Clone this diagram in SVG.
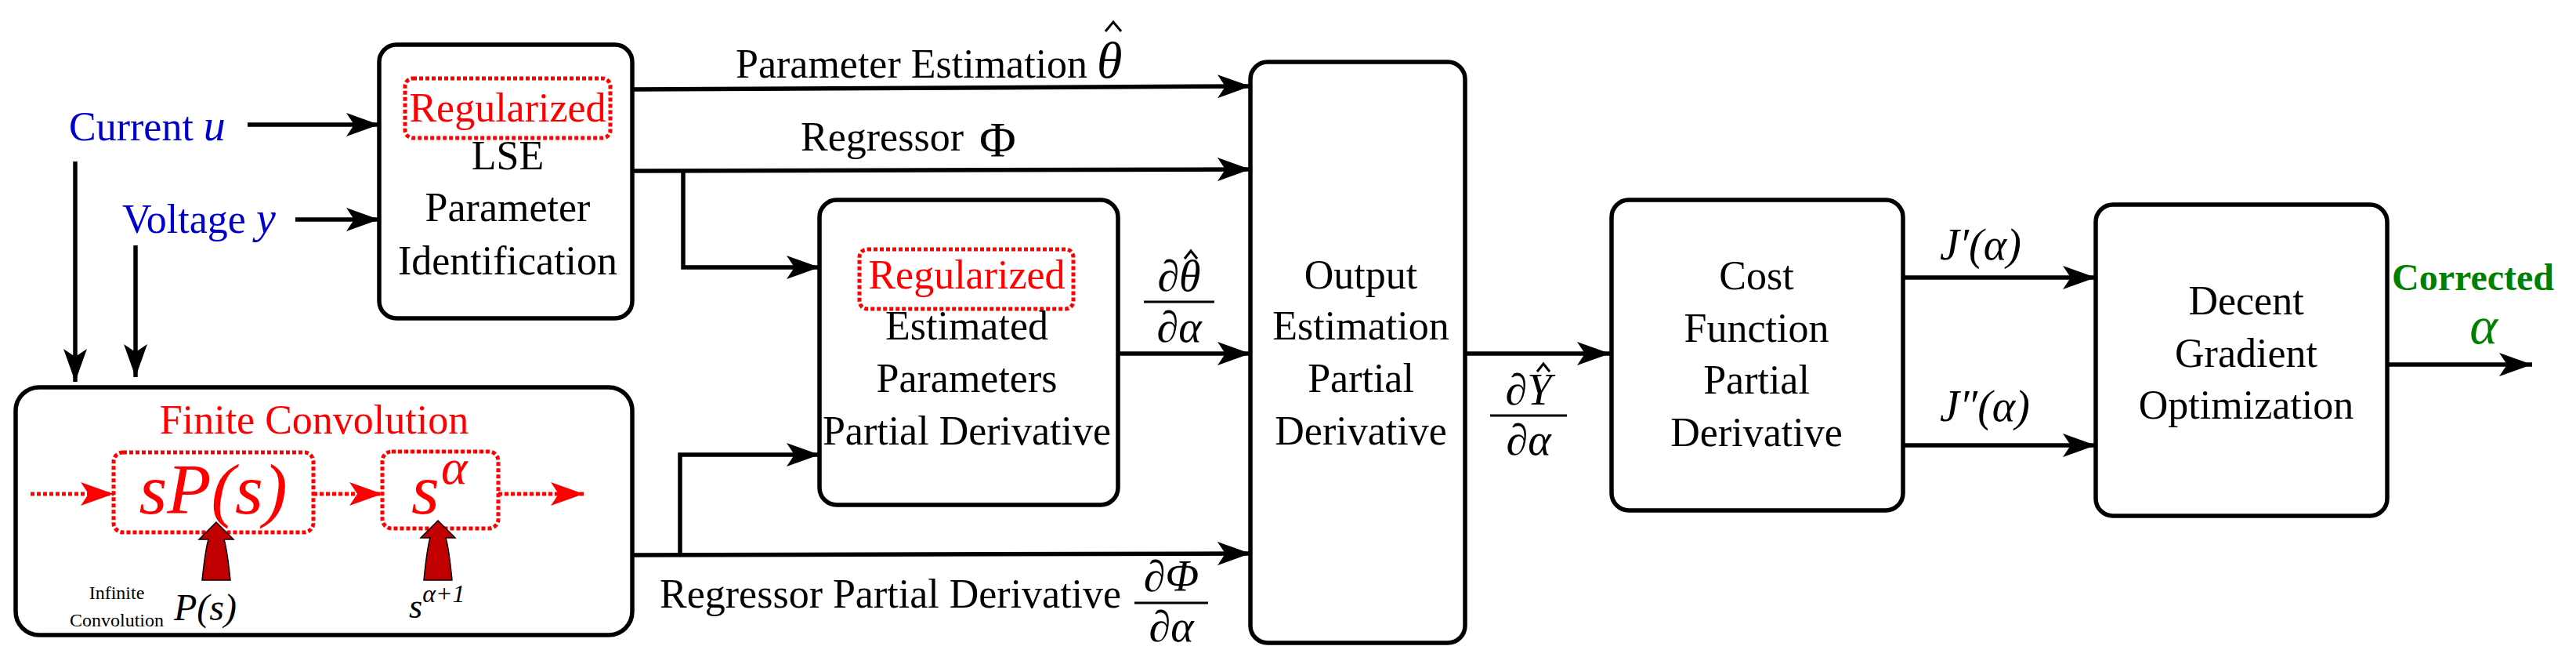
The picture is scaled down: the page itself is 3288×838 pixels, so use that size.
<svg xmlns="http://www.w3.org/2000/svg" width="3288" height="838" viewBox="0 0 3288 838">
<style>
text{font-family:"Liberation Serif",Tinos,"Times New Roman",Times,"Nimbus Roman","DejaVu Serif",serif}
.box{fill:#fff;stroke:#000;stroke-width:5.5}
.dot{fill:none;stroke:#f00;stroke-width:5;stroke-dasharray:5 3}
.t{font-size:52px;fill:#000;text-anchor:middle}
.l{font-size:52px;fill:#000}
.m{font-style:italic;font-size:56px;fill:#000}
.r{fill:#f00}
.w{stroke:#000;stroke-width:5.5;fill:none}
.rw{stroke:#f00;stroke-width:5;stroke-dasharray:5 3;fill:none}
.hat{stroke:#000;stroke-width:3;fill:none}
</style>
<defs>
<marker id="a" markerUnits="userSpaceOnUse" markerWidth="44" markerHeight="30" refX="42" refY="15" orient="auto"><path d="M0,0 L42,15 L0,30 L10,15 Z" fill="#000"/></marker>
<marker id="ra" markerUnits="userSpaceOnUse" markerWidth="44" markerHeight="30" refX="42" refY="15" orient="auto"><path d="M0,0 L42,15 L0,30 L10,15 Z" fill="#f00"/></marker>
</defs>
<rect width="3288" height="838" fill="#fff"/>
<g id="connectors">
<line class="w" x1="316" y1="159" x2="484" y2="159" marker-end="url(#a)"/>
<line class="w" x1="377" y1="280" x2="484" y2="280" marker-end="url(#a)"/>
<line class="w" x1="96" y1="206" x2="96" y2="487" marker-end="url(#a)"/>
<line class="w" x1="173" y1="313" x2="173" y2="481" marker-end="url(#a)"/>
<line class="w" x1="807" y1="114" x2="1596" y2="110" marker-end="url(#a)"/>
<line class="w" x1="807" y1="218" x2="1596" y2="216" marker-end="url(#a)"/>
<polyline class="w" points="872,218 872,341 1046,341" marker-end="url(#a)"/>
<line class="w" x1="807" y1="708" x2="1596" y2="706" marker-end="url(#a)"/>
<polyline class="w" points="868,708 868,580 1046,580" marker-end="url(#a)"/>
<line class="w" x1="1427" y1="451" x2="1596" y2="451" marker-end="url(#a)"/>
<line class="w" x1="1870" y1="451" x2="2055" y2="451" marker-end="url(#a)"/>
<line class="w" x1="2429" y1="354" x2="2675" y2="354" marker-end="url(#a)"/>
<line class="w" x1="2429" y1="568" x2="2675" y2="568" marker-end="url(#a)"/>
<line class="w" x1="3047" y1="465" x2="3232" y2="465" marker-end="url(#a)"/>
</g>
<g id="inputs">
<text class="l" x="88" y="179" style="fill:#0000cc">Current <tspan class="m" style="fill:#0000cc">u</tspan></text>
<text class="l" x="156" y="297" style="fill:#0000cc">Voltage <tspan class="m" style="fill:#0000cc">y</tspan></text>
</g>
<g id="lse">
<rect class="box" x="484" y="57" width="323" height="349" rx="22"/>
<rect class="dot" x="517" y="100" width="262" height="76" rx="10"/>
<text class="t r" x="648" y="155">Regularized</text>
<text class="t" x="648" y="216">LSE</text>
<text class="t" x="648" y="282">Parameter</text>
<text class="t" x="648" y="350">Identification</text>
</g>
<g id="conv">
<rect class="box" x="20" y="494" width="787" height="316" rx="30"/>
<text class="t r" x="401" y="553">Finite Convolution</text>
<rect class="dot" x="145" y="577" width="255" height="102" rx="12"/>
<rect class="dot" x="488" y="576" width="148" height="98" rx="12"/>
<line class="rw" x1="39" y1="630" x2="145" y2="630" marker-end="url(#ra)"/>
<line class="rw" x1="400" y1="630" x2="488" y2="630" marker-end="url(#ra)"/>
<line class="rw" x1="636" y1="630" x2="745" y2="630" marker-end="url(#ra)"/>
<text class="m r" x="272" y="655" text-anchor="middle" style="font-size:92px">sP(s)</text>
<text class="m r" x="525" y="655" style="font-size:92px">s</text>
<text class="m r" x="563" y="617" style="font-size:64px">α</text>
<path d="M258,740 Q262,702 266,688 L254,688 L276,666 L298,688 L286,688 Q290,702 294,740 Z" fill="#c00000" stroke="#000" stroke-width="1.5"/>
<path d="M541,740 Q545,700 549,686 L537,686 L559,664 L581,686 L569,686 Q573,700 577,740 Z" fill="#c00000" stroke="#000" stroke-width="1.5"/>
<text class="t" x="149" y="764" style="font-size:24px">Infinite</text>
<text class="t" x="149" y="799" style="font-size:24px">Convolution</text>
<text class="m" x="222" y="791" style="font-size:48px">P(s)</text>
<text class="m" x="522" y="788" style="font-size:44px">s<tspan dy="-20" style="font-size:32px">α+1</tspan></text>
</g>
<g id="labels">
<text class="l" x="939" y="99">Parameter Estimation</text>
<text class="m" x="1400" y="99" style="font-size:66px">θ</text>
<polyline class="hat" points="1411,40 1421,28 1431,40"/>
<text class="l" x="1022" y="192">Regressor</text>
<text class="l" x="1250" y="200" style="font-size:64px">Φ</text>
<text class="m" x="1505" y="371" text-anchor="middle">∂θ</text>
<polyline class="hat" points="1512,330 1520,320 1528,330"/>
<line x1="1460" y1="385" x2="1550" y2="385" stroke="#000" stroke-width="3"/>
<text class="m" x="1505" y="436" text-anchor="middle">∂α</text>
<text class="l" x="842" y="775">Regressor Partial Derivative</text>
<text class="m" x="1495" y="754" text-anchor="middle">∂Φ</text>
<line x1="1448" y1="769" x2="1542" y2="769" stroke="#000" stroke-width="3"/>
<text class="m" x="1495" y="818" text-anchor="middle">∂α</text>
<text class="m" x="1951" y="516" text-anchor="middle">∂Y</text>
<polyline class="hat" points="1962,474 1970,464 1978,474"/>
<line x1="1902" y1="530" x2="2000" y2="530" stroke="#000" stroke-width="3"/>
<text class="m" x="1951" y="580" text-anchor="middle">∂α</text>
<text class="m" x="2476" y="331">J′(α)</text>
<text class="m" x="2476" y="537">J″(α)</text>
<text class="l" x="3053" y="370" style="font-weight:bold;fill:#008000;font-size:48px">Corrected</text>
<text class="m" x="3170" y="438" text-anchor="middle" style="fill:#008000;font-size:68px">α</text>
</g>
<g id="est">
<rect class="box" x="1046" y="255" width="381" height="389" rx="22"/>
<rect class="dot" x="1097" y="318" width="273" height="76" rx="10"/>
<text class="t r" x="1234" y="368">Regularized</text>
<text class="t" x="1234" y="433">Estimated</text>
<text class="t" x="1234" y="500">Parameters</text>
<text class="t" x="1234" y="567">Partial Derivative</text>
</g>
<g id="output">
<rect class="box" x="1596" y="79" width="274" height="741" rx="22"/>
<text class="t" x="1737" y="368">Output</text>
<text class="t" x="1737" y="433">Estimation</text>
<text class="t" x="1737" y="500">Partial</text>
<text class="t" x="1737" y="567">Derivative</text>
</g>
<g id="cost">
<rect class="box" x="2057" y="255" width="372" height="396" rx="22"/>
<text class="t" x="2242" y="369">Cost</text>
<text class="t" x="2242" y="436">Function</text>
<text class="t" x="2242" y="502">Partial</text>
<text class="t" x="2242" y="569">Derivative</text>
</g>
<g id="decent">
<rect class="box" x="2675" y="261" width="372" height="397" rx="22"/>
<text class="t" x="2867" y="401">Decent</text>
<text class="t" x="2867" y="468">Gradient</text>
<text class="t" x="2867" y="534">Optimization</text>
</g>
</svg>
